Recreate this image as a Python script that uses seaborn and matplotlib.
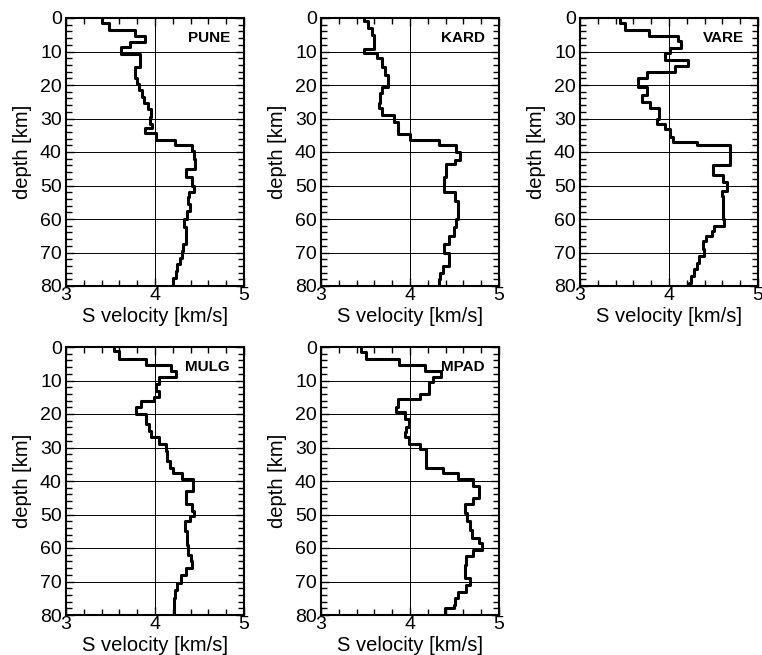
import numpy as np
import pandas as pd
import matplotlib
matplotlib.use("Agg")
import matplotlib.pyplot as plt
from matplotlib.ticker import MultipleLocator
import seaborn as sns

# ---- data: layer boundaries (km) and S velocity per layer (km/s) ----
stations = ["PUNE", "KARD", "VARE", "MULG", "MPAD"]

PUNE_depth = [0, 1.5, 3.7, 5.5, 7.2, 8.8, 10.7, 14.5, 18, 19.7, 21.5, 23.5, 25.5, 27.2,
              29.5, 31.5, 32.7, 34.3, 36.3, 38, 39.7, 42, 45, 47.5, 50, 52, 53.5, 55.5,
              57.5, 60, 62.5, 67.5, 69.5, 71.5, 73.5, 75.5, 77.5, 80]
PUNE_vs = [3.40, 3.48, 3.77, 3.89, 3.72, 3.62, 3.83, 3.77, 3.80, 3.82, 3.85, 3.88, 3.92,
           3.96, 3.94, 3.97, 3.89, 4.01, 4.22, 4.42, 4.44, 4.45, 4.35, 4.42, 4.44, 4.38,
           4.37, 4.39, 4.36, 4.33, 4.35, 4.32, 4.30, 4.28, 4.25, 4.24, 4.20]

KARD_depth = [0, 1, 3, 5, 9.2, 10.5, 12, 14.5, 17, 20.5, 22.5, 25.5, 27, 29, 31, 34.5,
              36.5, 38, 40, 42.5, 43.5, 47.5, 52, 54.5, 60, 62.5, 65, 67.5, 70, 74, 76,
              78, 80]
KARD_vs = [3.48, 3.53, 3.57, 3.60, 3.48, 3.63, 3.69, 3.72, 3.75, 3.69, 3.66, 3.65, 3.68,
           3.82, 3.86, 4.00, 4.33, 4.52, 4.56, 4.51, 4.41, 4.38, 4.51, 4.54, 4.52, 4.49,
           4.44, 4.38, 4.44, 4.37, 4.34, 4.33]

VARE_depth = [0, 1.5, 3.5, 5.5, 7, 9, 10.3, 12.5, 14.3, 16, 18, 20.5, 23, 25, 27, 30,
              31.5, 33, 35.5, 37, 38, 44, 47, 49, 51.5, 53, 60, 62, 63.5, 65, 66.5, 69,
              71, 73, 75, 77, 79, 80]
VARE_vs = [3.45, 3.50, 3.78, 4.10, 4.14, 4.01, 3.96, 4.21, 4.07, 3.75, 3.65, 3.75, 3.70,
           3.79, 3.89, 3.87, 3.96, 4.01, 4.04, 4.31, 4.68, 4.49, 4.61, 4.65, 4.59, 4.61,
           4.62, 4.51, 4.48, 4.42, 4.38, 4.39, 4.34, 4.31, 4.28, 4.25, 4.23]

MULG_depth = [0, 1.3, 3.5, 5.3, 7.3, 9, 11, 13, 15, 16, 18, 20, 23, 25, 27, 29, 31, 34,
              36, 37.5, 39.5, 43, 47, 49, 50.5, 52, 55, 59, 62, 64, 66, 68, 70.5, 72.5,
              75, 80]
MULG_vs = [3.54, 3.59, 3.90, 4.18, 4.24, 4.04, 4.01, 4.05, 3.99, 3.84, 3.79, 3.90, 3.93,
           3.95, 4.05, 4.12, 4.14, 4.17, 4.20, 4.30, 4.43, 4.35, 4.42, 4.44, 4.39, 4.34,
           4.36, 4.37, 4.40, 4.42, 4.35, 4.29, 4.25, 4.22, 4.21]

MPAD_depth = [0, 1.5, 3.5, 5.3, 7.3, 9, 10.5, 14, 15.5, 18, 19.5, 21.5, 24, 25.5, 27, 29,
              30.5, 36, 37.5, 39.5, 41.5, 45, 47, 49.5, 52, 54.5, 57, 58.5, 60.5, 62.5,
              65, 69, 71, 73, 75, 77, 78, 80]
MPAD_vs = [3.45, 3.51, 3.88, 4.17, 4.35, 4.26, 4.21, 4.11, 3.86, 3.84, 3.94, 3.99, 3.96,
           3.94, 3.99, 4.11, 4.18, 4.37, 4.54, 4.71, 4.77, 4.71, 4.62, 4.64, 4.67, 4.70,
           4.77, 4.81, 4.71, 4.63, 4.62, 4.67, 4.63, 4.54, 4.51, 4.49, 4.39]

profiles = {
    "PUNE": (PUNE_depth, PUNE_vs),
    "KARD": (KARD_depth, KARD_vs),
    "VARE": (VARE_depth, VARE_vs),
    "MULG": (MULG_depth, MULG_vs),
    "MPAD": (MPAD_depth, MPAD_vs),
}

x_ticks = [3, 4, 5]
y_ticks = [0, 10, 20, 30, 40, 50, 60, 70, 80]


def step_frame(depth, vs):
    rows = []
    for i, v in enumerate(vs):
        rows.append((v, depth[i]))
        rows.append((v, depth[i + 1]))
    return pd.DataFrame(rows, columns=["vs", "depth"])


sns.set_style("ticks")
plt.rcParams["font.family"] = ["Liberation Sans", "DejaVu Sans"]
for k in ["text.color", "axes.labelcolor", "xtick.color", "ytick.color", "axes.edgecolor"]:
    plt.rcParams[k] = "black"

W, H = 762, 655
fig = plt.figure(figsize=(W / 100, H / 100), dpi=100)

# axes positions in pixels: (left, top, width, height)
col_left = [66, 321, 580]
row_top = [18, 347]
aw, ah = 178, 268
layout = [(0, 0), (0, 1), (0, 2), (1, 0), (1, 1)]

for name, (r, c) in zip(stations, layout):
    l = col_left[c]
    t = row_top[r]
    ax = fig.add_axes([l / W, 1 - (t + ah) / H, aw / W, ah / H])
    depth, vs = profiles[name]
    df = step_frame(depth, vs)
    for yy in y_ticks[1:-1]:
        ax.axhline(yy, color="black", lw=0.7, zorder=1)
    ax.axvline(4, color="black", lw=0.7, zorder=1)
    sns.lineplot(data=df, x="vs", y="depth", sort=False, estimator=None,
                 color="black", lw=2.2, ax=ax, zorder=3)
    ax.set_xlim(3, 5)
    ax.set_ylim(80, 0)
    ax.set_xticks(x_ticks)
    ax.set_yticks(y_ticks)
    ax.xaxis.set_minor_locator(MultipleLocator(0.2))
    ax.yaxis.set_minor_locator(MultipleLocator(2))
    ax.tick_params(which="both", direction="in", top=True, right=True,
                   labelsize=14, width=1.0, colors="black")
    ax.tick_params(axis="y", pad=3)
    ax.tick_params(axis="x", pad=1)
    ax.tick_params(which="major", length=6)
    ax.tick_params(which="minor", length=4)
    for s in ax.spines.values():
        s.set_linewidth(1.5)
        s.set_color("black")
    ax.set_xlabel("S velocity [km/s]", fontsize=14.5, labelpad=2, color="black")
    ax.set_ylabel("depth [km]", fontsize=14.5, labelpad=6, color="black")
    ax.text(0.92, 0.925, name, transform=ax.transAxes, ha="right", va="center",
            fontsize=11, fontweight="bold", color="black")

fig.savefig("out.png", dpi=100)
